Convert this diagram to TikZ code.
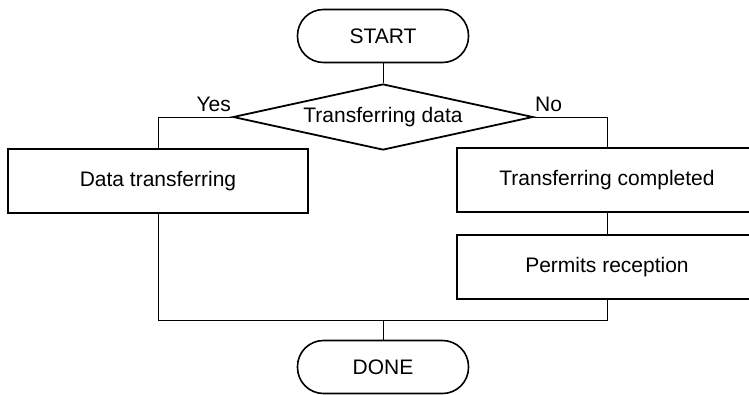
\documentclass[tikz,border=0pt]{standalone}
\usepackage{fontspec}
\setmainfont{Liberation Sans}
\usetikzlibrary{shapes.geometric}
\begin{document}
\begin{tikzpicture}[x=1pt,y=-1pt,
  every node/.style={font=\fontsize{21}{25}\selectfont},
  terminal/.style={draw,line width=1.6pt,rounded corners=26pt,minimum width=171pt,minimum height=53pt,inner sep=0pt},
  procbox/.style={draw,line width=1.8pt,minimum width=300pt,minimum height=64pt,inner sep=0pt},
  decision/.style={draw,line width=1.8pt,diamond,aspect=4.5,minimum width=300pt,minimum height=66pt,inner sep=0pt},
  conn/.style={line width=0.9pt},
  lbl/.style={inner sep=1pt}]
\clip (0,0) rectangle (749,394);
\useasboundingbox (0,0) rectangle (749,394);
\node[terminal] (start) at (383,36) {START};
\node[decision] (dia) at (383,117) {Transferring data};
\node[procbox] (dt) at (158,181) {Data transferring};
\node[procbox] (tc) at (607,180) {Transferring completed};
\node[procbox] (pr) at (607,267) {Permits reception};
\node[terminal] (done) at (383,367) {DONE};
\coordinate (join) at (383,320);
\draw[conn] (start.south) -- (dia.north);
\draw[conn] (dia.west) -| (dt.north);
\draw[conn] (dia.east) -| (tc.north);
\draw[conn] (tc.south) -- (pr.north);
\draw[conn] (dt.south) |- (join);
\draw[conn] (pr.south) |- (join);
\draw[conn] (join) -- (done.north);
\node[lbl,anchor=south east] at ([yshift=4pt]dia.west) {Yes};
\node[lbl,anchor=south west] at ([yshift=4pt]dia.east) {No};
\end{tikzpicture}
\end{document}
